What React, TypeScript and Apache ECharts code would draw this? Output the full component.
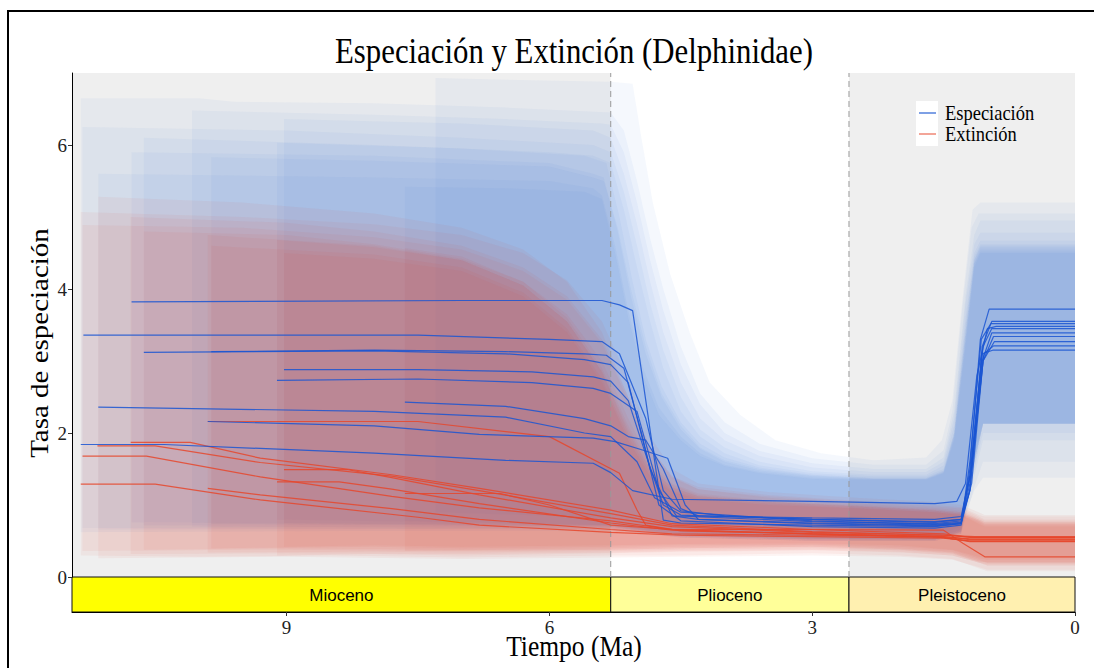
import React, { useEffect, useRef } from "react";
import * as echarts from "echarts";

// ---------- data ----------
const timeMax = 11.45;
const rateMax = 7;
const xTicks = [9, 6, 3, 0];
const yTicks = [0, 2, 4, 6];

const epochNames = ["Mioceno", "Plioceno", "Pleistoceno"];
const epochStarts = [11.45, 5.3, 2.58];
const epochEnds = [5.3, 2.58, 0];
const epochBarColors = ["#FFFF00", "#FFFF99", "#FFF0B0"];
const panelColors = ["#EFEFEF", "#FFFFFF", "#EFEFEF"];
const epochBoundaries = [5.3, 2.58];

const titleText = "Especiación y Extinción (Delphinidae)";
const xTitle = "Tiempo (Ma)";
const yTitle = "Tasa de especiación";
const legendNames = ["Especiación", "Extinción"];

// speciation medians (time Ma, rate)
const speciationLines: number[][][] = [
  [[11.35,1.84],[10.4,1.84],[8,1.72],[6.5,1.62],[5.5,1.58],[5.3,1.45],[5.05,1.2],[4.6,1.08],[3,1.05],[1.6,1.02],[1.35,1.05],[1.25,1.3],[1.12,2.8],[1.0,3.45],[0.9,3.48],[0,3.48]],
  [[11.32,3.36],[7.5,3.36],[6,3.3],[5.4,3.27],[5.2,3.1],[4.9,2.2],[4.7,1.2],[4.5,0.92],[4.0,0.85],[3,0.8],[1.6,0.76],[1.3,0.8],[1.2,1.4],[1.05,3.2],[0.95,3.45],[0,3.45]],
  [[11.15,2.36],[8,2.3],[6.5,2.22],[5.6,2.0],[5.3,1.95],[5.0,1.6],[4.8,1.1],[4.5,0.9],[3.0,0.78],[1.6,0.73],[1.3,0.76],[1.18,1.3],[1.05,3.0],[0.93,3.34],[0,3.34]],
  [[10.77,3.82],[7,3.84],[5.4,3.84],[5.2,3.78],[5.05,3.7],[4.7,0.79],[4.5,0.75],[3,0.72],[1.6,0.7],[1.3,0.74],[1.2,1.5],[1.08,3.3],[0.98,3.72],[0,3.72]],
  [[10.63,3.12],[8,3.14],[6.5,3.1],[5.6,3.02],[5.3,2.95],[5.1,2.7],[4.85,1.5],[4.6,0.85],[4.3,0.8],[3,0.74],[1.6,0.71],[1.3,0.74],[1.2,1.2],[1.06,3.0],[0.95,3.39],[0,3.39]],
  [[9.9,2.16],[8,2.1],[6.8,1.98],[5.5,1.93],[5.25,1.88],[4.9,1.75],[4.65,1.65],[4.45,1.0],[4.3,0.8],[3,0.75],[1.6,0.72],[1.3,0.75],[1.2,1.3],[1.05,3.0],[0.92,3.27],[0,3.27]],
  [[9.11,2.73],[7.5,2.75],[6.2,2.7],[5.5,2.62],[5.3,2.55],[5.0,2.3],[4.75,1.2],[4.55,0.85],[3,0.77],[1.6,0.74],[1.3,0.78],[1.18,1.5],[1.04,3.1],[0.93,3.21],[0,3.21]],
  [[9.03,2.88],[7.5,2.88],[6.2,2.85],[5.5,2.78],[5.3,2.72],[5.1,2.45],[4.9,1.7],[4.7,1.0],[4.5,0.86],[3,0.8],[1.6,0.77],[1.3,0.8],[1.2,1.2],[1.06,3.2],[0.95,3.55],[0,3.55]],
  [[7.65,2.43],[6.5,2.37],[5.6,2.2],[5.3,2.1],[5.1,1.95],[4.9,1.9],[4.7,1.5],[4.5,0.95],[4.3,0.85],[3,0.82],[1.6,0.8],[1.3,0.84],[1.2,1.4],[1.06,3.1],[0.94,3.15],[0,3.15]],
  [[9.86,3.13],[8,3.15],[6.5,3.13],[5.6,3.1],[5.35,3.08],[5.15,2.9],[4.95,2.0],[4.75,1.0],[4.5,0.78],[3,0.7],[1.6,0.68],[1.3,0.72],[1.2,1.6],[1.07,3.3],[0.96,3.52],[0,3.52]],
];

// extinction medians (time Ma, rate)
const extinctionLines: number[][][] = [
  [[11.35,1.29],[10.5,1.29],[9.3,1.07],[7.5,0.83],[6.8,0.72],[5.3,0.62],[4.5,0.58],[3.0,0.56],[1.5,0.54],[1.2,0.5],[0,0.5]],
  [[11.33,1.68],[10.6,1.68],[9.3,1.39],[7.8,1.12],[6.8,0.96],[5.3,0.78],[4.6,0.66],[3.0,0.6],[1.5,0.56],[1.2,0.52],[0,0.52]],
  [[11.16,1.82],[10.5,1.82],[9.3,1.59],[7.8,1.4],[6.8,1.2],[5.3,0.88],[4.6,0.72],[3.0,0.63],[1.5,0.58],[1.15,0.55],[0,0.55]],
  [[10.78,1.87],[10.1,1.87],[9.3,1.65],[7.8,1.42],[6.8,1.23],[5.3,0.93],[4.6,0.74],[3.0,0.66],[1.5,0.6],[1.2,0.55],[0,0.55]],
  [[9.9,1.23],[9.3,1.14],[7.8,0.95],[6.8,0.8],[5.3,0.66],[4.6,0.6],[3.0,0.58],[1.6,0.56],[1.2,0.5],[0,0.5]],
  [[9.9,2.16],[7.5,2.16],[6.0,1.95],[5.2,1.44],[5.0,0.93],[4.9,0.72],[4.5,0.64],[3.0,0.6],[1.5,0.55],[1.2,0.49],[0,0.49]],
  [[9.11,1.32],[8.4,1.32],[7.8,1.22],[6.8,1.02],[5.3,0.75],[4.6,0.65],[3.0,0.6],[1.5,0.56],[1.2,0.53],[0,0.53]],
  [[9.03,1.49],[8.3,1.49],[7.8,1.38],[6.8,1.14],[5.3,0.82],[4.6,0.7],[3.0,0.62],[1.5,0.58],[1.15,0.56],[0,0.56]],
  [[7.65,1.16],[6.56,1.16],[6.0,1.0],[5.3,0.72],[4.6,0.66],[3.0,0.66],[1.5,0.65],[1.28,0.47],[1.03,0.28],[0,0.28]],
];

// speciation credible bands
const speciationUpper: number[][][] = [
  [[7.3,6.93],[6.2,6.9],[5.3,6.88],[5.05,6.85],[4.95,6.1],[4.82,5.2],[4.62,4.2],[4.4,3.4],[4.17,2.7],[3.82,2.25],[3.42,1.9],[2.9,1.72],[2.3,1.62],[1.7,1.66],[1.52,1.9],[1.4,2.45],[1.29,3.8],[1.17,5.1],[1.08,5.2],[0,5.2]],
  [[11.35,6.65],[10.0,6.65],[9.6,6.6],[8,6.58],[6.5,6.52],[5.3,6.45],[5.15,6.2],[5.0,5.5],[4.85,4.7],[4.7,4.0],[4.5,3.2],[4.28,2.55],[4.0,2.15],[3.6,1.85],[3.0,1.65],[2.3,1.56],[1.7,1.56],[1.5,1.76],[1.4,2.3],[1.28,3.8],[1.18,4.85],[1.1,5.05],[0,5.05]],
  [[10.08,6.48],[8,6.42],[6.5,6.36],[5.4,6.3],[5.3,6.28],[5.15,5.9],[5.0,5.2],[4.85,4.4],[4.7,3.7],[4.5,2.95],[4.28,2.4],[4.0,2.0],[3.6,1.75],[3.0,1.58],[2.3,1.5],[1.7,1.5],[1.5,1.66],[1.38,2.3],[1.25,3.9],[1.15,4.75],[1.08,4.95],[0,4.95]],
  [[9.03,6.36],[7,6.3],[5.5,6.2],[5.3,6.1],[5.15,5.6],[5.0,4.9],[4.85,4.1],[4.7,3.4],[4.5,2.7],[4.28,2.2],[4.0,1.9],[3.6,1.68],[3.0,1.52],[2.3,1.46],[1.7,1.46],[1.5,1.6],[1.38,2.2],[1.25,3.8],[1.15,4.62],[1.08,4.78],[0,4.78]],
  [[11.33,6.25],[9,6.2],[7,6.1],[5.5,6.0],[5.3,5.9],[5.15,5.35],[5.0,4.6],[4.85,3.8],[4.7,3.15],[4.5,2.5],[4.28,2.05],[4.0,1.8],[3.6,1.6],[3.0,1.47],[2.3,1.42],[1.7,1.42],[1.5,1.55],[1.38,2.1],[1.25,3.6],[1.15,4.5],[1.08,4.67],[0,4.67]],
  [[10.63,6.1],[8,6.0],[6,5.9],[5.5,5.85],[5.3,5.75],[5.15,5.1],[5.0,4.3],[4.85,3.55],[4.7,2.9],[4.5,2.3],[4.28,1.95],[4.0,1.72],[3.6,1.55],[3.0,1.44],[2.3,1.4],[1.7,1.4],[1.5,1.5],[1.38,2.0],[1.25,3.5],[1.15,4.45],[1.08,4.62],[0,4.62]],
  [[9.11,6.03],[7,5.95],[5.6,5.85],[5.35,5.75],[5.2,5.0],[5.05,4.1],[4.9,3.3],[4.72,2.65],[4.5,2.15],[4.28,1.85],[4.0,1.66],[3.6,1.52],[3.0,1.42],[2.3,1.38],[1.7,1.38],[1.5,1.48],[1.38,2.0],[1.25,3.4],[1.15,4.4],[1.08,4.6],[0,4.6]],
  [[10.77,5.9],[8,5.85],[6,5.75],[5.5,5.6],[5.38,5.55],[5.22,4.8],[5.07,3.9],[4.9,3.1],[4.72,2.5],[4.5,2.05],[4.28,1.78],[4.0,1.6],[3.6,1.48],[3.0,1.4],[2.3,1.36],[1.7,1.36],[1.5,1.46],[1.38,1.95],[1.25,3.3],[1.15,4.35],[1.08,4.55],[0,4.55]],
  [[9.86,5.83],[8,5.78],[6,5.7],[5.5,5.55],[5.38,5.5],[5.22,4.85],[5.07,4.0],[4.9,3.2],[4.72,2.55],[4.5,2.1],[4.28,1.8],[4.0,1.62],[3.6,1.5],[3.0,1.41],[2.3,1.37],[1.7,1.37],[1.5,1.47],[1.38,1.98],[1.25,3.4],[1.15,4.4],[1.08,4.58],[0,4.58]],
  [[11.15,5.6],[8,5.55],[6,5.5],[5.5,5.4],[5.4,5.3],[5.25,4.6],[5.1,3.7],[4.93,2.9],[4.75,2.35],[4.5,1.95],[4.28,1.72],[4.0,1.56],[3.6,1.46],[3.0,1.38],[2.3,1.36],[1.7,1.36],[1.5,1.45],[1.38,1.95],[1.25,3.3],[1.15,4.35],[1.08,4.52],[0,4.52]],
  [[7.65,5.42],[6.5,5.4],[5.6,5.35],[5.4,5.25],[5.25,4.5],[5.1,3.6],[4.93,2.8],[4.75,2.25],[4.5,1.9],[4.28,1.68],[4.0,1.54],[3.6,1.44],[3.0,1.36],[2.3,1.35],[1.7,1.35],[1.5,1.44],[1.38,1.9],[1.25,3.2],[1.15,4.3],[1.08,4.5],[0,4.5]],
];
const speciationLower: number[][][] = [
  [[7.3,0.9],[5.3,0.82],[4.5,0.62],[3,0.56],[1.6,0.55],[1.3,0.7],[1.15,1.2],[1.05,1.38],[0,1.38]],
  [[11.35,0.62],[8,0.64],[5.3,0.64],[4.5,0.55],[3,0.5],[1.6,0.5],[1.3,0.6],[1.15,1.25],[1.05,1.6],[0,1.6]],
  [[10.08,0.7],[5.3,0.68],[4.5,0.56],[3,0.52],[1.6,0.52],[1.3,0.62],[1.15,1.4],[1.05,1.9],[0,1.9]],
  [[9.03,0.75],[5.3,0.7],[4.5,0.58],[3,0.55],[1.6,0.54],[1.3,0.65],[1.15,1.5],[1.05,2.0],[0,2.0]],
  [[11.33,0.68],[5.3,0.66],[4.5,0.55],[3,0.5],[1.6,0.5],[1.3,0.6],[1.15,1.5],[1.05,2.13],[0,2.13]],
  [[10.63,0.72],[5.3,0.7],[4.5,0.57],[3,0.52],[1.6,0.52],[1.3,0.62],[1.15,1.6],[1.05,2.13],[0,2.13]],
  [[9.11,0.8],[5.3,0.72],[4.5,0.6],[3,0.55],[1.6,0.54],[1.3,0.66],[1.15,1.6],[1.05,2.13],[0,2.13]],
  [[10.77,0.76],[5.3,0.72],[4.5,0.58],[3,0.53],[1.6,0.52],[1.3,0.64],[1.15,1.7],[1.05,2.13],[0,2.13]],
  [[9.86,0.74],[5.3,0.7],[4.5,0.57],[3,0.52],[1.6,0.52],[1.3,0.63],[1.15,1.65],[1.05,2.13],[0,2.13]],
  [[11.15,0.66],[5.3,0.66],[4.5,0.55],[3,0.5],[1.6,0.5],[1.3,0.6],[1.15,1.6],[1.05,2.13],[0,2.13]],
  [[7.65,0.78],[5.3,0.72],[4.5,0.58],[3,0.53],[1.6,0.52],[1.3,0.63],[1.15,1.6],[1.05,2.13],[0,2.13]],
];

// extinction credible bands
const extinctionUpper: number[][][] = [
  [[11.35,5.07],[9.5,5.0],[8,4.9],[7,4.75],[6.3,4.5],[5.8,4.12],[5.4,3.55],[5.1,2.75],[4.85,1.95],[4.6,1.5],[4.3,1.3],[3.5,1.18],[2.5,1.1],[1.6,1.04],[1.3,1.0],[1.1,0.9],[1.03,0.86],[0,0.86]],
  [[11.33,4.89],[9.5,4.85],[8,4.72],[7,4.55],[6.3,4.25],[5.8,3.85],[5.4,3.25],[5.1,2.45],[4.85,1.75],[4.6,1.38],[4.3,1.22],[3.5,1.12],[2.5,1.05],[1.6,0.98],[1.3,0.95],[1.1,0.84],[1.03,0.8],[0,0.8]],
  [[11.15,5.28],[9.5,5.2],[8,5.05],[7,4.85],[6.3,4.55],[5.8,4.1],[5.4,3.4],[5.1,2.5],[4.85,1.8],[4.6,1.4],[4.3,1.25],[3.5,1.14],[2.5,1.06],[1.6,1.0],[1.3,0.97],[1.1,0.86],[1.03,0.84],[0,0.84]],
  [[10.78,5.0],[9,4.92],[8,4.8],[7,4.6],[6.3,4.3],[5.8,3.9],[5.4,3.3],[5.1,2.5],[4.85,1.8],[4.6,1.4],[4.3,1.22],[3.5,1.1],[2.5,1.02],[1.6,0.96],[1.3,0.92],[1.1,0.82],[1.03,0.78],[0,0.78]],
  [[10.63,4.8],[9,4.75],[8,4.62],[7,4.42],[6.3,4.1],[5.8,3.65],[5.4,3.0],[5.1,2.2],[4.85,1.6],[4.6,1.3],[4.3,1.16],[3.5,1.06],[2.5,1.0],[1.6,0.94],[1.3,0.9],[1.1,0.8],[1.03,0.76],[0,0.76]],
  [[9.9,4.75],[8,4.6],[7,4.4],[6.3,4.05],[5.8,3.55],[5.4,2.85],[5.1,2.05],[4.85,1.5],[4.6,1.25],[4.3,1.12],[3.5,1.04],[2.5,0.98],[1.6,0.92],[1.3,0.88],[1.1,0.78],[1.03,0.74],[0,0.74]],
  [[9.86,4.6],[8,4.48],[7,4.3],[6.3,3.95],[5.8,3.45],[5.4,2.75],[5.1,1.95],[4.85,1.45],[4.6,1.2],[4.3,1.1],[3.5,1.02],[2.5,0.96],[1.6,0.9],[1.3,0.86],[1.1,0.76],[1.03,0.72],[0,0.72]],
  [[9.11,4.68],[8,4.58],[7,4.4],[6.3,4.05],[5.8,3.55],[5.4,2.85],[5.1,2.0],[4.85,1.5],[4.6,1.24],[4.3,1.12],[3.5,1.04],[2.5,0.98],[1.6,0.92],[1.3,0.88],[1.1,0.78],[1.03,0.74],[0,0.74]],
  [[9.03,4.5],[8,4.42],[7,4.25],[6.3,3.9],[5.8,3.4],[5.4,2.7],[5.1,1.9],[4.85,1.4],[4.6,1.18],[4.3,1.08],[3.5,1.0],[2.5,0.95],[1.6,0.9],[1.3,0.86],[1.1,0.74],[1.03,0.7],[0,0.7]],
  [[7.65,4.57],[7,4.45],[6.3,4.1],[5.8,3.6],[5.4,2.9],[5.1,2.1],[4.85,1.55],[4.6,1.28],[4.3,1.14],[3.5,1.05],[2.5,0.99],[1.6,0.93],[1.3,0.9],[1.1,0.8],[1.03,0.76],[0,0.76]],
];
const extinctionLower: number[][][] = [
  [[11.35,0.3],[10,0.28],[8.5,0.3],[7,0.27],[5.3,0.3],[4.5,0.3],[3,0.33],[2,0.3],[1.4,0.25],[1.1,0.12],[1.0,0.08],[0,0.08]],
  [[11.33,0.36],[9,0.38],[7,0.36],[5.3,0.38],[4.5,0.4],[3,0.42],[2,0.38],[1.4,0.33],[1.1,0.2],[1.0,0.16],[0,0.16]],
  [[11.15,0.26],[9,0.28],[7,0.25],[5.3,0.27],[4.5,0.28],[3,0.3],[2,0.28],[1.4,0.24],[1.1,0.14],[1.0,0.1],[0,0.1]],
  [[10.78,0.32],[9,0.33],[7,0.32],[5.3,0.34],[4.5,0.36],[3,0.38],[2,0.35],[1.4,0.3],[1.1,0.2],[1.0,0.18],[0,0.18]],
  [[10.63,0.38],[9,0.4],[7,0.38],[5.3,0.4],[4.5,0.42],[3,0.44],[2,0.4],[1.4,0.35],[1.1,0.24],[1.0,0.2],[0,0.2]],
  [[9.9,0.34],[8,0.35],[7,0.34],[5.3,0.36],[4.5,0.38],[3,0.4],[2,0.37],[1.4,0.32],[1.1,0.22],[1.0,0.2],[0,0.2]],
  [[9.86,0.4],[8,0.42],[7,0.4],[5.3,0.42],[4.5,0.44],[3,0.45],[2,0.42],[1.4,0.37],[1.1,0.26],[1.0,0.24],[0,0.24]],
  [[9.11,0.3],[8,0.32],[7,0.3],[5.3,0.33],[4.5,0.35],[3,0.37],[2,0.34],[1.4,0.3],[1.1,0.2],[1.0,0.16],[0,0.16]],
  [[9.03,0.42],[8,0.44],[7,0.42],[5.3,0.44],[4.5,0.46],[3,0.47],[2,0.44],[1.4,0.38],[1.1,0.28],[1.0,0.26],[0,0.26]],
  [[7.65,0.36],[7,0.37],[5.3,0.38],[4.5,0.4],[3,0.42],[2,0.39],[1.4,0.34],[1.1,0.22],[1.0,0.2],[0,0.2]],
];

// ---------- styles ----------
const SERIF = "Liberation Serif";
const SANS = "Liberation Sans";
const BLUE_LINE = "#1a55d2";
const RED_LINE = "#e6472c";
const BLUE_FILL = "rgba(59,111,217,0.05)";
const RED_FILL = "rgba(226,74,48,0.058)";

function ribbonSeries(uppers: number[][][], lowers: number[][][], fill: string, name: string) {
  return {
    type: "custom",
    name,
    xAxisIndex: 0,
    yAxisIndex: 0,
    z: 2,
    silent: true,
    data: uppers.map((u) => u[0]),
    renderItem: (params: any, api: any) => {
      const i = params.dataIndex;
      const pts = uppers[i]
        .map((p) => api.coord(p))
        .concat(lowers[i].slice().reverse().map((p) => api.coord(p)));
      return { type: "polygon", shape: { points: pts }, style: { fill } };
    },
  };
}

function textEl(text: string, x: number, y: number, size: number, extra: any = {}) {
  return {
    type: "text",
    z: 101,
    x,
    y,
    ...extra,
    style: {
      text,
      fill: "#000",
      fontSize: size,
      fontFamily: SERIF,
      align: extra.align || "center",
      verticalAlign: "middle",
    },
  };
}

export default function App() {
  const ref = useRef<HTMLDivElement>(null);

  useEffect(() => {
    if (!ref.current) return;
    const chart = echarts.init(ref.current, undefined, { renderer: "svg" });

    const series: any[] = [];

    // panel backgrounds
    series.push({
      type: "custom",
      xAxisIndex: 0,
      yAxisIndex: 0,
      z: 1,
      silent: true,
      data: epochStarts.map((s) => [s, 0]),
      renderItem: (params: any, api: any) => {
        const i = params.dataIndex;
        const a = api.coord([epochStarts[i], rateMax]);
        const b = api.coord([epochEnds[i], 0]);
        return {
          type: "rect",
          shape: {
            x: Math.min(a[0], b[0]),
            y: Math.min(a[1], b[1]),
            width: Math.abs(b[0] - a[0]),
            height: Math.abs(b[1] - a[1]),
          },
          style: { fill: panelColors[i] },
        };
      },
    });

    series.push(ribbonSeries(speciationUpper, speciationLower, BLUE_FILL, "bandSp"));
    series.push(ribbonSeries(extinctionUpper, extinctionLower, RED_FILL, "bandEx"));

    // dashed epoch boundaries
    series.push({
      type: "custom",
      xAxisIndex: 0,
      yAxisIndex: 0,
      z: 3,
      silent: true,
      data: epochBoundaries.map((b) => [b, 0]),
      renderItem: (params: any, api: any) => {
        const b = epochBoundaries[params.dataIndex];
        const p0 = api.coord([b, 0]);
        const p1 = api.coord([b, rateMax]);
        return {
          type: "line",
          shape: { x1: p0[0], y1: p0[1], x2: p1[0], y2: p1[1] },
          style: { stroke: "#999", lineWidth: 1, lineDash: [6, 4] },
        };
      },
    });

    extinctionLines.forEach((d, i) =>
      series.push({
        type: "line",
        name: "ex" + i,
        data: d,
        xAxisIndex: 0,
        yAxisIndex: 0,
        symbol: "none",
        showSymbol: false,
        silent: true,
        z: 4,
        lineStyle: { color: RED_LINE, width: 1.2, opacity: 0.85 },
      })
    );
    speciationLines.forEach((d, i) =>
      series.push({
        type: "line",
        name: "sp" + i,
        data: d,
        xAxisIndex: 0,
        yAxisIndex: 0,
        symbol: "none",
        showSymbol: false,
        silent: true,
        z: 5,
        lineStyle: { color: BLUE_LINE, width: 1.2, opacity: 0.85 },
      })
    );

    // geological time bar
    series.push({
      type: "custom",
      xAxisIndex: 1,
      yAxisIndex: 1,
      z: 2,
      silent: true,
      data: epochStarts.map((s) => [s, 0]),
      renderItem: (params: any, api: any) => {
        const i = params.dataIndex;
        const a = api.coord([epochStarts[i], 1]);
        const b = api.coord([epochEnds[i], 0]);
        const x = Math.min(a[0], b[0]);
        const y = Math.min(a[1], b[1]);
        const w = Math.abs(b[0] - a[0]);
        const h = Math.abs(b[1] - a[1]);
        return {
          type: "group",
          children: [
            {
              type: "rect",
              shape: { x, y, width: w, height: h },
              style: { fill: epochBarColors[i], stroke: "#111", lineWidth: 1 },
            },
            {
              type: "text",
              x: x + w / 2,
              y: y + h / 2 + 1,
              style: {
                text: epochNames[i],
                fill: "#000",
                fontSize: 17,
                fontFamily: SANS,
                align: "center",
                verticalAlign: "middle",
              },
            },
          ],
        };
      },
    });

    const option: any = {
      animation: false,
      grid: [
        { left: 72, right: 19, top: 73, height: 504 },
        { left: 72, right: 19, top: 577, height: 35 },
      ],
      xAxis: [
        { type: "value", gridIndex: 0, min: 0, max: timeMax, inverse: true, show: false },
        {
          type: "value",
          gridIndex: 1,
          min: 0,
          max: timeMax,
          inverse: true,
          interval: 3,
          z: 10,
          axisLine: { show: true, onZero: false, lineStyle: { color: "#000", width: 1 } },
          axisTick: { show: true, length: 4, customValues: xTicks, lineStyle: { color: "#333" } },
          axisLabel: {
            customValues: xTicks,
            formatter: (v: number) => (xTicks.includes(v) ? String(v) : ""),
            fontFamily: SERIF,
            fontSize: 19,
            color: "#222",
            margin: 6,
          },
          splitLine: { show: false },
        },
      ],
      yAxis: [
        {
          type: "value",
          gridIndex: 0,
          min: 0,
          max: rateMax,
          interval: 2,
          z: 10,
          axisLine: { show: true, onZero: false, lineStyle: { color: "#000", width: 1 } },
          axisTick: { show: true, length: 4, customValues: yTicks, lineStyle: { color: "#333" } },
          axisLabel: {
            customValues: yTicks,
            formatter: (v: number) => (yTicks.includes(v) ? String(v) : ""),
            fontFamily: SERIF,
            fontSize: 19,
            color: "#222",
            margin: 5,
          },
          splitLine: { show: false },
        },
        { type: "value", gridIndex: 1, min: 0, max: 1, show: false },
      ],
      series,
      graphic: [
        {
          type: "rect",
          z: 100,
          silent: true,
          shape: { x: 8, y: 11, width: 1300, height: 900 },
          style: { fill: "none", stroke: "#000", lineWidth: 2 },
        },
        textEl(titleText, 574, 51, 35, { scaleX: 0.88 }),
        textEl(xTitle, 574, 646, 30, { scaleX: 0.85 }),
        textEl(yTitle, 40, 343, 29, { rotation: Math.PI / 2, scaleY: 0.86 }),
        {
          type: "rect",
          z: 100,
          shape: { x: 916, y: 101, width: 22, height: 45 },
          style: { fill: "#FFFFFF" },
        },
        {
          type: "line",
          z: 101,
          shape: { x1: 919, y1: 113, x2: 936, y2: 113 },
          style: { stroke: BLUE_LINE, lineWidth: 1.5, opacity: 0.75 },
        },
        {
          type: "line",
          z: 101,
          shape: { x1: 919, y1: 134, x2: 936, y2: 134 },
          style: { stroke: RED_LINE, lineWidth: 1.5, opacity: 0.65 },
        },
        textEl(legendNames[0], 945, 113, 21, { scaleX: 0.88, align: "left" }),
        textEl(legendNames[1], 945, 134, 21, { scaleX: 0.88, align: "left" }),
      ],
    };

    chart.setOption(option);
    return () => chart.dispose();
  }, []);

  return (
    <div
      ref={ref}
      style={{ position: "fixed", left: 0, top: 0, width: 1094, height: 668, background: "#fff" }}
    />
  );
}
